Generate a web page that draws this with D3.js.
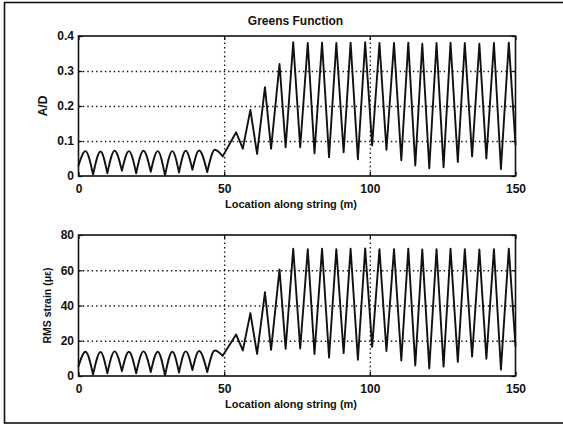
<!DOCTYPE html>
<html>
<head>
<meta charset="utf-8">
<script src="https://cdn.jsdelivr.net/npm/d3@7"></script>
<style>
  body { margin: 0; background: #fff; }
  svg text { font-family: "Liberation Sans", Arial, sans-serif; fill: #111; font-weight: bold; }
</style>
</head>
<body>
<svg id="fig" width="563" height="425"></svg>
<script>
// Turning points of the response along the string (m): troughs at even
// indexes, peaks at odd indexes, first and last entries are the ends.
const extremaLoc = [0, 2.4, 5.0, 7.55, 9.9, 12.4, 14.9, 17.3, 19.8, 22.3, 24.8,
  27.2, 29.7, 32.2, 34.5, 36.8, 39.1, 41.4, 44.2, 46.8, 49.5, 54.1, 56.4, 59.0,
  61.3, 64.0, 66.1, 69.0, 71.1, 73.7, 76.1, 78.7, 81.0, 83.6, 86.0, 88.5, 91.0,
  93.4, 95.9, 98.4, 100.8, 103.3, 105.7, 108.3, 110.8, 113.2, 115.6, 118.0,
  120.4, 122.9, 125.3, 127.7, 130.2, 132.6, 135.1, 137.6, 140.0, 142.6, 145.0,
  147.7, 150];

// index where the near-end (rectified) pattern gives way to the far-end swing
const splitIndex = 20;

// A/D ratio at those points
const adValue = [0.03, 0.071, 0.004, 0.070, 0.008, 0.072, 0.015, 0.071, 0.008,
  0.072, 0.012, 0.071, 0.001, 0.071, 0.010, 0.072, 0.018, 0.073, 0.011, 0.075,
  0.056, 0.125, 0.078, 0.189, 0.063, 0.254, 0.078, 0.320, 0.082, 0.382, 0.082,
  0.380, 0.065, 0.381, 0.054, 0.380, 0.068, 0.381, 0.048, 0.382, 0.088, 0.380,
  0.075, 0.380, 0.045, 0.381, 0.030, 0.378, 0.022, 0.380, 0.025, 0.381, 0.040,
  0.380, 0.056, 0.378, 0.050, 0.380, 0.020, 0.381, 0.090];

// RMS strain (microstrain) at those points
const strainValue = [5.5, 13.8, 0.8, 13.6, 1.5, 14.0, 2.8, 13.8, 1.5, 14.0, 2.3,
  13.8, 0.3, 13.8, 2.0, 14.0, 3.4, 14.2, 2.2, 14.5, 11.5, 23.5, 14.5, 35.7, 12.5,
  47.5, 14.8, 60.5, 15.5, 72.2, 15.6, 72.0, 12.5, 72.2, 10.5, 72.0, 13.0, 72.2,
  9.2, 72.4, 16.5, 72.0, 14.2, 72.0, 8.8, 72.2, 6.0, 71.8, 4.3, 72.0, 5.3, 72.2,
  8.0, 72.0, 11.0, 71.8, 9.8, 72.0, 3.6, 72.2, 17.0];

const xTicks = [0, 50, 100, 150];
const xGrid = [50, 100];
const adTicks = [0, 0.1, 0.2, 0.3, 0.4];
const adTickLabels = ["0", "0.1", "0.2", "0.3", "0.4"];
const adGrid = [0.1, 0.2, 0.3];
const strainTicks = [0, 20, 40, 60, 80];
const strainGrid = [20, 40, 60];

const svg = d3.select("#fig");

// figure border (runs off the right edge)
svg.append("rect")
  .attr("x", 4.5).attr("y", 2.5)
  .attr("width", 575).attr("height", 420.5)
  .attr("fill", "none").attr("stroke", "#111").attr("stroke-width", 1.6);

const x = d3.scaleLinear().domain([0, 150]).range([78.5, 515.5]);

const panels = [
  { top: 36, bottom: 176, domain: [0, 0.4], values: adValue,
    ticks: adTicks, tickLabels: adTickLabels, grid: adGrid,
    ylabel: "A/D", ylabelX: 46.5, ylabelSize: 12 },
  { top: 235, bottom: 376, domain: [0, 80], values: strainValue,
    ticks: strainTicks, tickLabels: strainTicks.map(String), grid: strainGrid,
    ylabel: "RMS strain (\u03bc\u03b5)", ylabelX: 50.5, ylabelSize: 10.5 }
];

const [xl, xr] = x.range();

panels.forEach(p => {
  const y = d3.scaleLinear().domain(p.domain).range([p.bottom, p.top]);
  const g = svg.append("g");

  // dotted grid
  const gridH = g.append("g")
    .call(d3.axisLeft(y).tickValues(p.grid).tickSize(-(xr - xl)).tickFormat(""))
    .attr("transform", `translate(${xl},0)`);
  const gridV = g.append("g")
    .attr("transform", `translate(0,${p.bottom})`)
    .call(d3.axisBottom(x).tickValues(xGrid).tickSize(-(p.bottom - p.top)).tickFormat(""));
  [gridH, gridV].forEach(s => {
    s.select(".domain").remove();
    s.selectAll("line").attr("stroke", "#111").attr("stroke-width", 1.4)
      .attr("stroke-dasharray", "1.4,3");
  });

  const px = i => x(extremaLoc[i]);
  const py = i => y(p.values[i]);

  // near end: rectified arches, one per trough-peak-trough triple
  const arch = d3.line().x(px).y(py).curve(d3.curveMonotoneX);
  let d = "";
  for (let i = 0; i + 2 <= splitIndex; i += 2) d += arch([i, i + 1, i + 2]);
  // far end: sharp swing straight through every turning point
  d += d3.line().x(px).y(py)(d3.range(splitIndex, extremaLoc.length));

  g.append("path").attr("d", d)
    .attr("fill", "none").attr("stroke", "#111")
    .attr("stroke-width", 1.9).attr("stroke-linejoin", "round").attr("stroke-linecap", "round");

  // axes with inward ticks
  const ax = [
    g.append("g").attr("transform", `translate(0,${p.bottom})`)
      .call(d3.axisBottom(x).tickValues(xTicks).tickSize(-4).tickSizeOuter(0).tickPadding(8.5)),
    g.append("g").attr("transform", `translate(0,${p.top})`)
      .call(d3.axisTop(x).tickValues(xTicks).tickSize(-4).tickSizeOuter(0).tickFormat("")),
    g.append("g").attr("transform", `translate(${xl},0)`)
      .call(d3.axisLeft(y).tickValues(p.ticks).tickSize(-4).tickSizeOuter(0).tickPadding(4.5)
        .tickFormat((v, i) => p.tickLabels[i])),
    g.append("g").attr("transform", `translate(${xr},0)`)
      .call(d3.axisRight(y).tickValues(p.ticks).tickSize(-4).tickSizeOuter(0).tickFormat(""))
  ];
  ax.forEach(s => {
    s.select(".domain").remove();
    s.selectAll("line").attr("stroke", "#111").attr("stroke-width", 1.3);
    s.selectAll("text").attr("font-size", 12).attr("fill", "#111")
      .attr("font-family", "Liberation Sans, Arial, sans-serif");
  });

  // box
  g.append("rect")
    .attr("x", xl).attr("y", p.top)
    .attr("width", xr - xl).attr("height", p.bottom - p.top)
    .attr("fill", "none").attr("stroke", "#111").attr("stroke-width", 1.6);

  // labels
  g.append("text")
    .attr("x", 291).attr("y", p.bottom + 32)
    .attr("text-anchor", "middle").attr("font-size", 11)
    .text("Location along string (m)");
  g.append("text")
    .attr("transform", `translate(${p.ylabelX},${(p.top + p.bottom) / 2}) rotate(-90)`)
    .attr("text-anchor", "middle").attr("font-size", p.ylabelSize)
    .text(p.ylabel);
});

svg.append("text")
  .attr("x", 295.5).attr("y", 25)
  .attr("text-anchor", "middle").attr("font-size", 12)
  .text("Greens Function");
</script>
</body>
</html>
